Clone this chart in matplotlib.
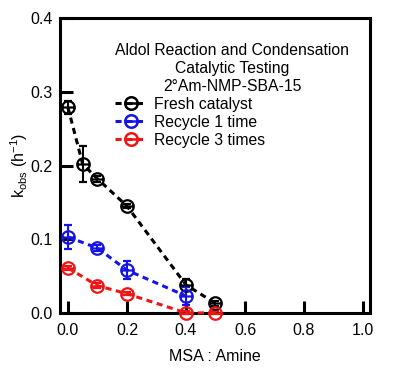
import numpy as np
import matplotlib
matplotlib.use('Agg')
import matplotlib.pyplot as plt
from matplotlib.path import Path
from matplotlib.lines import Line2D

plt.rcParams['font.family'] = ['Liberation Sans', 'DejaVu Sans']
plt.rcParams['mathtext.default'] = 'regular'

# ── Data ──────────────────────────────────────────────────────
fresh_x   = [0.0, 0.05, 0.1, 0.2, 0.4, 0.5]
fresh_y   = [0.279, 0.202, 0.182, 0.145, 0.038, 0.013]
fresh_err = [0.009, 0.024, 0.004, 0.003, 0.008, 0.003]

rec1_x   = [0.0, 0.1, 0.2, 0.4]
rec1_y   = [0.103, 0.088, 0.058, 0.023]
rec1_err = [0.016, 0.004, 0.012, 0.012]

rec3_x   = [0.0, 0.1, 0.2, 0.4, 0.5]
rec3_y   = [0.061, 0.037, 0.026, 0.0, 0.0]
rec3_err = [0.003, 0.003, 0.002, 0.002, 0.002]

series = [
    (fresh_x, fresh_y, fresh_err, 'black', 'Fresh catalyst'),
    (rec1_x,  rec1_y,  rec1_err,  '#1414e6', 'Recycle 1 time'),
    (rec3_x,  rec3_y,  rec3_err,  '#f01414', 'Recycle 3 times'),
]

# circle with a horizontal bar through it
circ = Path.unit_circle()
bar = Path([[-1, 0], [1, 0]], [Path.MOVETO, Path.LINETO])
theta_marker = Path.make_compound_path(circ, bar)

dash = (0, (2.0, 1.5))

# ── Plot ──────────────────────────────────────────────────────
fig = plt.figure(figsize=(4.05, 3.77), dpi=100)
ax = fig.add_axes([0.148, 0.170, 0.766, 0.782])

handles = []
for x, y, e, c, lab in series:
    ax.errorbar(x, y, yerr=e, color=c, ls=dash, lw=2.2,
                marker=theta_marker, ms=9, mfc='none', mec=c, mew=1.6,
                ecolor=c, elinewidth=1.5, capsize=3, capthick=1.5,
                clip_on=False, zorder=3)
    handles.append(Line2D([], [], color=c, ls=dash, lw=2.2, marker=theta_marker,
                          ms=9, mfc='none', mec=c, mew=1.8, label=lab))

ax.set_xlim(-0.027, 1.024)
ax.set_ylim(0, 0.4)
ax.set_xticks(np.arange(0, 1.01, 0.2))
ax.set_yticks(np.arange(0, 0.41, 0.1))
ax.xaxis.set_major_formatter(plt.FuncFormatter(lambda v, _: f'{v:.1f}'))
ax.yaxis.set_major_formatter(plt.FuncFormatter(lambda v, _: f'{v:.1f}'))
ax.tick_params(direction='in', length=9, width=2.2, labelsize=11.5)
ax.tick_params(axis='y', pad=5)
ax.tick_params(axis='x', pad=7)
for s in ax.spines.values():
    s.set_linewidth(2.2)

ax.set_xlabel('MSA : Amine', fontsize=11.5, labelpad=8)
ax.set_ylabel('k$_{obs}$ (h$^{-1}$)', fontsize=11.5)
ax.yaxis.set_label_coords(-0.095, 0.5)

leg = ax.legend(handles=handles,
                title='Aldol Reaction and Condensation\nCatalytic Testing\n2°Am-NMP-SBA-15',
                loc='upper left', bbox_to_anchor=(0.178, 0.915), frameon=False,
                fontsize=11.3, title_fontsize=11.3, handlelength=2.0, handletextpad=0.5,
                labelspacing=0.18, borderpad=0, borderaxespad=0, alignment='left')
leg.get_title().set_multialignment('center')
leg.get_title().set_linespacing(1.25)
leg._legend_box.sep = 2

fig.savefig('out.png', dpi=100)
